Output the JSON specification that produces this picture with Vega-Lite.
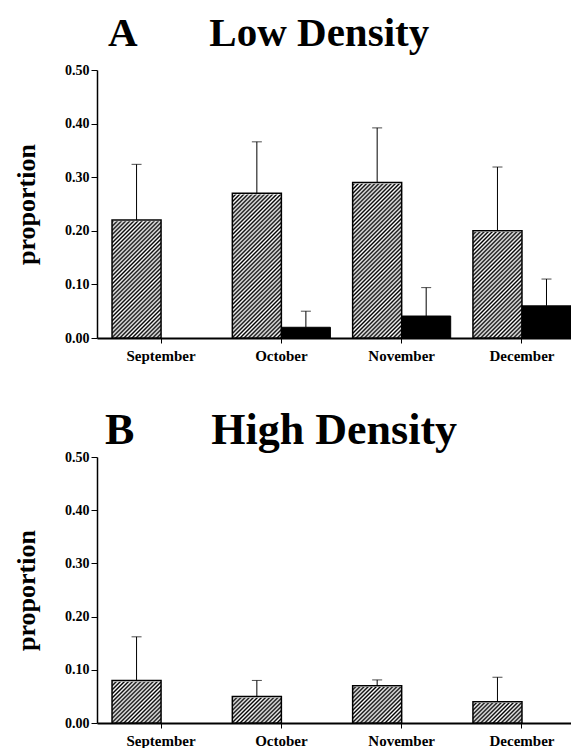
{
  "$schema": "https://vega.github.io/schema/vega-lite/v6.json",
  "padding": {"top": 13, "left": 13, "right": 0, "bottom": 0},
  "background": "white",
  "spacing": 46,
  "config": {
    "view": {"stroke": null},
    "font": "Liberation Serif",
    "title": {"font": "Liberation Serif", "fontSize": 42, "fontWeight": "bold", "anchor": "start", "frame": "group", "color": "#000", "baseline": "alphabetic"},
    "axis": {"domainColor": "#000", "tickColor": "#000", "labelColor": "#000", "titleColor": "#000", "labelFont": "Liberation Serif", "titleFont": "Liberation Serif", "labelFontWeight": "bold", "titleFontWeight": "bold", "grid": false}
  },
  "data": {"values": [
    {"panel": "A", "month": "September", "series": "hatched", "value": 0.22, "upper": 0.324},
    {"panel": "A", "month": "October", "series": "hatched", "value": 0.27, "upper": 0.366},
    {"panel": "A", "month": "November", "series": "hatched", "value": 0.29, "upper": 0.392},
    {"panel": "A", "month": "December", "series": "hatched", "value": 0.20, "upper": 0.319},
    {"panel": "A", "month": "September", "series": "solid", "value": 0.0, "upper": 0.0},
    {"panel": "A", "month": "October", "series": "solid", "value": 0.02, "upper": 0.05},
    {"panel": "A", "month": "November", "series": "solid", "value": 0.041, "upper": 0.094},
    {"panel": "A", "month": "December", "series": "solid", "value": 0.06, "upper": 0.11},
    {"panel": "B", "month": "September", "series": "hatched", "value": 0.08, "upper": 0.162},
    {"panel": "B", "month": "October", "series": "hatched", "value": 0.05, "upper": 0.08},
    {"panel": "B", "month": "November", "series": "hatched", "value": 0.07, "upper": 0.081},
    {"panel": "B", "month": "December", "series": "hatched", "value": 0.04, "upper": 0.086},
    {"panel": "B", "month": "September", "series": "solid", "value": 0.0, "upper": 0.0},
    {"panel": "B", "month": "October", "series": "solid", "value": 0.0, "upper": 0.0},
    {"panel": "B", "month": "November", "series": "solid", "value": 0.0, "upper": 0.0},
    {"panel": "B", "month": "December", "series": "solid", "value": 0.0, "upper": 0.0}
  ]},
  "vconcat": [
    {
      "title": {"text": "A\u00a0\u00a0\u00a0\u00a0\u00a0\u00a0\u00a0Low Density", "dx": 11, "offset": 8, "fontSize": 41},
      "width": 474,
      "height": 268,
      "transform": [{"filter": "datum.panel === 'A'"}],
      "encoding": {
        "x": {"field": "month", "type": "nominal", "sort": ["September", "October", "November", "December"],
              "scale": {"paddingInner": 0.185, "paddingOuter": 0.0625, "align": 1},
              "axis": {"title": null, "labelAngle": 0, "labelFontSize": 15, "domainWidth": 2, "tickSize": 5, "tickWidth": 1, "labelPadding": 5}},
        "xOffset": {"field": "series", "type": "nominal", "scale": {"domain": ["hatched", "solid"], "paddingInner": 0, "paddingOuter": 0}}
      },
      "layer": [
        {
          "transform": [{"filter": "datum.series === 'hatched'"}],
          "mark": {"type": "bar", "stroke": null, "fill": {"gradient": "linear", "x1": 0, "y1": 0, "x2": 0.2726, "y2": 1.4856, "stops": [
            {"offset":0,"color":"#000"},{"offset":0.005,"color":"#fff"},{"offset":0.01,"color":"#000"},{"offset":0.015,"color":"#fff"},{"offset":0.02,"color":"#000"},{"offset":0.025,"color":"#fff"},{"offset":0.03,"color":"#000"},{"offset":0.035,"color":"#fff"},{"offset":0.04,"color":"#000"},{"offset":0.045,"color":"#fff"},
            {"offset":0.05,"color":"#000"},{"offset":0.055,"color":"#fff"},{"offset":0.06,"color":"#000"},{"offset":0.065,"color":"#fff"},{"offset":0.07,"color":"#000"},{"offset":0.075,"color":"#fff"},{"offset":0.08,"color":"#000"},{"offset":0.085,"color":"#fff"},{"offset":0.09,"color":"#000"},{"offset":0.095,"color":"#fff"},
            {"offset":0.1,"color":"#000"},{"offset":0.105,"color":"#fff"},{"offset":0.11,"color":"#000"},{"offset":0.115,"color":"#fff"},{"offset":0.12,"color":"#000"},{"offset":0.125,"color":"#fff"},{"offset":0.13,"color":"#000"},{"offset":0.135,"color":"#fff"},{"offset":0.14,"color":"#000"},{"offset":0.145,"color":"#fff"},
            {"offset":0.15,"color":"#000"},{"offset":0.155,"color":"#fff"},{"offset":0.16,"color":"#000"},{"offset":0.165,"color":"#fff"},{"offset":0.17,"color":"#000"},{"offset":0.175,"color":"#fff"},{"offset":0.18,"color":"#000"},{"offset":0.185,"color":"#fff"},{"offset":0.19,"color":"#000"},{"offset":0.195,"color":"#fff"},
            {"offset":0.2,"color":"#000"},{"offset":0.205,"color":"#fff"},{"offset":0.21,"color":"#000"},{"offset":0.215,"color":"#fff"},{"offset":0.22,"color":"#000"},{"offset":0.225,"color":"#fff"},{"offset":0.23,"color":"#000"},{"offset":0.235,"color":"#fff"},{"offset":0.24,"color":"#000"},{"offset":0.245,"color":"#fff"},
            {"offset":0.25,"color":"#000"},{"offset":0.255,"color":"#fff"},{"offset":0.26,"color":"#000"},{"offset":0.265,"color":"#fff"},{"offset":0.27,"color":"#000"},{"offset":0.275,"color":"#fff"},{"offset":0.28,"color":"#000"},{"offset":0.285,"color":"#fff"},{"offset":0.29,"color":"#000"},{"offset":0.295,"color":"#fff"},
            {"offset":0.3,"color":"#000"},{"offset":0.305,"color":"#fff"},{"offset":0.31,"color":"#000"},{"offset":0.315,"color":"#fff"},{"offset":0.32,"color":"#000"},{"offset":0.325,"color":"#fff"},{"offset":0.33,"color":"#000"},{"offset":0.335,"color":"#fff"},{"offset":0.34,"color":"#000"},{"offset":0.345,"color":"#fff"},
            {"offset":0.35,"color":"#000"},{"offset":0.355,"color":"#fff"},{"offset":0.36,"color":"#000"},{"offset":0.365,"color":"#fff"},{"offset":0.37,"color":"#000"},{"offset":0.375,"color":"#fff"},{"offset":0.38,"color":"#000"},{"offset":0.385,"color":"#fff"},{"offset":0.39,"color":"#000"},{"offset":0.395,"color":"#fff"},
            {"offset":0.4,"color":"#000"},{"offset":0.405,"color":"#fff"},{"offset":0.41,"color":"#000"},{"offset":0.415,"color":"#fff"},{"offset":0.42,"color":"#000"},{"offset":0.425,"color":"#fff"},{"offset":0.43,"color":"#000"},{"offset":0.435,"color":"#fff"},{"offset":0.44,"color":"#000"},{"offset":0.445,"color":"#fff"},
            {"offset":0.45,"color":"#000"},{"offset":0.455,"color":"#fff"},{"offset":0.46,"color":"#000"},{"offset":0.465,"color":"#fff"},{"offset":0.47,"color":"#000"},{"offset":0.475,"color":"#fff"},{"offset":0.48,"color":"#000"},{"offset":0.485,"color":"#fff"},{"offset":0.49,"color":"#000"},{"offset":0.495,"color":"#fff"},
            {"offset":0.5,"color":"#000"},{"offset":0.505,"color":"#fff"},{"offset":0.51,"color":"#000"},{"offset":0.515,"color":"#fff"},{"offset":0.52,"color":"#000"},{"offset":0.525,"color":"#fff"},{"offset":0.53,"color":"#000"},{"offset":0.535,"color":"#fff"},{"offset":0.54,"color":"#000"},{"offset":0.545,"color":"#fff"},
            {"offset":0.55,"color":"#000"},{"offset":0.555,"color":"#fff"},{"offset":0.56,"color":"#000"},{"offset":0.565,"color":"#fff"},{"offset":0.57,"color":"#000"},{"offset":0.575,"color":"#fff"},{"offset":0.58,"color":"#000"},{"offset":0.585,"color":"#fff"},{"offset":0.59,"color":"#000"},{"offset":0.595,"color":"#fff"},
            {"offset":0.6,"color":"#000"},{"offset":0.605,"color":"#fff"},{"offset":0.61,"color":"#000"},{"offset":0.615,"color":"#fff"},{"offset":0.62,"color":"#000"},{"offset":0.625,"color":"#fff"},{"offset":0.63,"color":"#000"},{"offset":0.635,"color":"#fff"},{"offset":0.64,"color":"#000"},{"offset":0.645,"color":"#fff"},
            {"offset":0.65,"color":"#000"},{"offset":0.655,"color":"#fff"},{"offset":0.66,"color":"#000"},{"offset":0.665,"color":"#fff"},{"offset":0.67,"color":"#000"},{"offset":0.675,"color":"#fff"},{"offset":0.68,"color":"#000"},{"offset":0.685,"color":"#fff"},{"offset":0.69,"color":"#000"},{"offset":0.695,"color":"#fff"},
            {"offset":0.7,"color":"#000"},{"offset":0.705,"color":"#fff"},{"offset":0.71,"color":"#000"},{"offset":0.715,"color":"#fff"},{"offset":0.72,"color":"#000"},{"offset":0.725,"color":"#fff"},{"offset":0.73,"color":"#000"},{"offset":0.735,"color":"#fff"},{"offset":0.74,"color":"#000"},{"offset":0.745,"color":"#fff"},
            {"offset":0.75,"color":"#000"},{"offset":0.755,"color":"#fff"},{"offset":0.76,"color":"#000"},{"offset":0.765,"color":"#fff"},{"offset":0.77,"color":"#000"},{"offset":0.775,"color":"#fff"},{"offset":0.78,"color":"#000"}
          ]}},
          "encoding": {
            "y": {"datum": 0.5, "type": "quantitative", "scale": {"domain": [0, 0.5], "nice": false},
                  "axis": {"title": "proportion", "values": [0, 0.1, 0.2, 0.3, 0.4, 0.5], "format": ".2f", "labelFontSize": 14, "titleFontSize": 26, "tickSize": 6, "domainWidth": 1.5, "labelPadding": 2, "titlePadding": 25}},
            "y2": {"datum": 0}
          }
        },
        {
          "transform": [{"filter": "datum.series === 'hatched'"}],
          "mark": {"type": "bar", "fill": "#fff", "stroke": "#fff", "strokeWidth": 2.5},
          "encoding": {"y": {"field": "value", "type": "quantitative", "stack": null}, "y2": {"datum": 0.5}}
        },
        {
          "transform": [{"filter": "datum.series === 'hatched'"}],
          "mark": {"type": "bar", "fill": "transparent", "stroke": "#000", "strokeWidth": 1.5},
          "encoding": {"y": {"field": "value", "type": "quantitative", "stack": null}, "y2": {"datum": 0}}
        },
        {
          "transform": [{"filter": "datum.series === 'solid' && datum.value > 0"}],
          "mark": {"type": "bar", "fill": "#000", "stroke": "#000", "strokeWidth": 1},
          "encoding": {"y": {"field": "value", "type": "quantitative", "stack": null}}
        },
        {
          "transform": [{"filter": "datum.upper > datum.value"}],
          "mark": {"type": "rule", "color": "#000", "strokeWidth": 1},
          "encoding": {"y": {"field": "value", "type": "quantitative"}, "y2": {"field": "upper"}}
        },
        {
          "transform": [{"filter": "datum.upper > datum.value"}],
          "mark": {"type": "tick", "color": "#000", "size": 10, "thickness": 1, "orient": "horizontal"},
          "encoding": {"y": {"field": "upper", "type": "quantitative"}}
        }
      ]
    },
    {
      "title": {"text": "B\u00a0\u00a0\u00a0\u00a0\u00a0\u00a0\u00a0High Density", "dx": 8, "offset": -3, "fontSize": 44},
      "width": 474,
      "height": 266,
      "transform": [{"filter": "datum.panel === 'B'"}],
      "encoding": {
        "x": {"field": "month", "type": "nominal", "sort": ["September", "October", "November", "December"],
              "scale": {"paddingInner": 0.185, "paddingOuter": 0.0625, "align": 1},
              "axis": {"title": null, "labelAngle": 0, "labelFontSize": 15, "domainWidth": 2, "tickSize": 5, "tickWidth": 1, "labelPadding": 5}},
        "xOffset": {"field": "series", "type": "nominal", "scale": {"domain": ["hatched", "solid"], "paddingInner": 0, "paddingOuter": 0}}
      },
      "layer": [
        {
          "transform": [{"filter": "datum.series === 'hatched'"}],
          "mark": {"type": "bar", "stroke": null, "fill": {"gradient": "linear", "x1": 0, "y1": 0, "x2": 0.2726, "y2": 1.4856, "stops": [
            {"offset":0,"color":"#000"},{"offset":0.005,"color":"#fff"},{"offset":0.01,"color":"#000"},{"offset":0.015,"color":"#fff"},{"offset":0.02,"color":"#000"},{"offset":0.025,"color":"#fff"},{"offset":0.03,"color":"#000"},{"offset":0.035,"color":"#fff"},{"offset":0.04,"color":"#000"},{"offset":0.045,"color":"#fff"},
            {"offset":0.05,"color":"#000"},{"offset":0.055,"color":"#fff"},{"offset":0.06,"color":"#000"},{"offset":0.065,"color":"#fff"},{"offset":0.07,"color":"#000"},{"offset":0.075,"color":"#fff"},{"offset":0.08,"color":"#000"},{"offset":0.085,"color":"#fff"},{"offset":0.09,"color":"#000"},{"offset":0.095,"color":"#fff"},
            {"offset":0.1,"color":"#000"},{"offset":0.105,"color":"#fff"},{"offset":0.11,"color":"#000"},{"offset":0.115,"color":"#fff"},{"offset":0.12,"color":"#000"},{"offset":0.125,"color":"#fff"},{"offset":0.13,"color":"#000"},{"offset":0.135,"color":"#fff"},{"offset":0.14,"color":"#000"},{"offset":0.145,"color":"#fff"},
            {"offset":0.15,"color":"#000"},{"offset":0.155,"color":"#fff"},{"offset":0.16,"color":"#000"},{"offset":0.165,"color":"#fff"},{"offset":0.17,"color":"#000"},{"offset":0.175,"color":"#fff"},{"offset":0.18,"color":"#000"},{"offset":0.185,"color":"#fff"},{"offset":0.19,"color":"#000"},{"offset":0.195,"color":"#fff"},
            {"offset":0.2,"color":"#000"},{"offset":0.205,"color":"#fff"},{"offset":0.21,"color":"#000"},{"offset":0.215,"color":"#fff"},{"offset":0.22,"color":"#000"},{"offset":0.225,"color":"#fff"},{"offset":0.23,"color":"#000"},{"offset":0.235,"color":"#fff"},{"offset":0.24,"color":"#000"},{"offset":0.245,"color":"#fff"},
            {"offset":0.25,"color":"#000"},{"offset":0.255,"color":"#fff"},{"offset":0.26,"color":"#000"},{"offset":0.265,"color":"#fff"},{"offset":0.27,"color":"#000"},{"offset":0.275,"color":"#fff"},{"offset":0.28,"color":"#000"},{"offset":0.285,"color":"#fff"},{"offset":0.29,"color":"#000"},{"offset":0.295,"color":"#fff"},
            {"offset":0.3,"color":"#000"},{"offset":0.305,"color":"#fff"},{"offset":0.31,"color":"#000"},{"offset":0.315,"color":"#fff"},{"offset":0.32,"color":"#000"},{"offset":0.325,"color":"#fff"},{"offset":0.33,"color":"#000"},{"offset":0.335,"color":"#fff"},{"offset":0.34,"color":"#000"},{"offset":0.345,"color":"#fff"},
            {"offset":0.35,"color":"#000"},{"offset":0.355,"color":"#fff"},{"offset":0.36,"color":"#000"},{"offset":0.365,"color":"#fff"},{"offset":0.37,"color":"#000"},{"offset":0.375,"color":"#fff"},{"offset":0.38,"color":"#000"},{"offset":0.385,"color":"#fff"},{"offset":0.39,"color":"#000"},{"offset":0.395,"color":"#fff"},
            {"offset":0.4,"color":"#000"},{"offset":0.405,"color":"#fff"},{"offset":0.41,"color":"#000"},{"offset":0.415,"color":"#fff"},{"offset":0.42,"color":"#000"},{"offset":0.425,"color":"#fff"},{"offset":0.43,"color":"#000"},{"offset":0.435,"color":"#fff"},{"offset":0.44,"color":"#000"},{"offset":0.445,"color":"#fff"},
            {"offset":0.45,"color":"#000"},{"offset":0.455,"color":"#fff"},{"offset":0.46,"color":"#000"},{"offset":0.465,"color":"#fff"},{"offset":0.47,"color":"#000"},{"offset":0.475,"color":"#fff"},{"offset":0.48,"color":"#000"},{"offset":0.485,"color":"#fff"},{"offset":0.49,"color":"#000"},{"offset":0.495,"color":"#fff"},
            {"offset":0.5,"color":"#000"},{"offset":0.505,"color":"#fff"},{"offset":0.51,"color":"#000"},{"offset":0.515,"color":"#fff"},{"offset":0.52,"color":"#000"},{"offset":0.525,"color":"#fff"},{"offset":0.53,"color":"#000"},{"offset":0.535,"color":"#fff"},{"offset":0.54,"color":"#000"},{"offset":0.545,"color":"#fff"},
            {"offset":0.55,"color":"#000"},{"offset":0.555,"color":"#fff"},{"offset":0.56,"color":"#000"},{"offset":0.565,"color":"#fff"},{"offset":0.57,"color":"#000"},{"offset":0.575,"color":"#fff"},{"offset":0.58,"color":"#000"},{"offset":0.585,"color":"#fff"},{"offset":0.59,"color":"#000"},{"offset":0.595,"color":"#fff"},
            {"offset":0.6,"color":"#000"},{"offset":0.605,"color":"#fff"},{"offset":0.61,"color":"#000"},{"offset":0.615,"color":"#fff"},{"offset":0.62,"color":"#000"},{"offset":0.625,"color":"#fff"},{"offset":0.63,"color":"#000"},{"offset":0.635,"color":"#fff"},{"offset":0.64,"color":"#000"},{"offset":0.645,"color":"#fff"},
            {"offset":0.65,"color":"#000"},{"offset":0.655,"color":"#fff"},{"offset":0.66,"color":"#000"},{"offset":0.665,"color":"#fff"},{"offset":0.67,"color":"#000"},{"offset":0.675,"color":"#fff"},{"offset":0.68,"color":"#000"},{"offset":0.685,"color":"#fff"},{"offset":0.69,"color":"#000"},{"offset":0.695,"color":"#fff"},
            {"offset":0.7,"color":"#000"},{"offset":0.705,"color":"#fff"},{"offset":0.71,"color":"#000"},{"offset":0.715,"color":"#fff"},{"offset":0.72,"color":"#000"},{"offset":0.725,"color":"#fff"},{"offset":0.73,"color":"#000"},{"offset":0.735,"color":"#fff"},{"offset":0.74,"color":"#000"},{"offset":0.745,"color":"#fff"},
            {"offset":0.75,"color":"#000"},{"offset":0.755,"color":"#fff"},{"offset":0.76,"color":"#000"},{"offset":0.765,"color":"#fff"},{"offset":0.77,"color":"#000"},{"offset":0.775,"color":"#fff"},{"offset":0.78,"color":"#000"}
          ]}},
          "encoding": {
            "y": {"datum": 0.5, "type": "quantitative", "scale": {"domain": [0, 0.5], "nice": false},
                  "axis": {"title": "proportion", "values": [0, 0.1, 0.2, 0.3, 0.4, 0.5], "format": ".2f", "labelFontSize": 14, "titleFontSize": 26, "tickSize": 6, "domainWidth": 1.5, "labelPadding": 2, "titlePadding": 25}},
            "y2": {"datum": 0}
          }
        },
        {
          "transform": [{"filter": "datum.series === 'hatched'"}],
          "mark": {"type": "bar", "fill": "#fff", "stroke": "#fff", "strokeWidth": 2.5},
          "encoding": {"y": {"field": "value", "type": "quantitative", "stack": null}, "y2": {"datum": 0.5}}
        },
        {
          "transform": [{"filter": "datum.series === 'hatched'"}],
          "mark": {"type": "bar", "fill": "transparent", "stroke": "#000", "strokeWidth": 1.5},
          "encoding": {"y": {"field": "value", "type": "quantitative", "stack": null}, "y2": {"datum": 0}}
        },
        {
          "transform": [{"filter": "datum.series === 'solid' && datum.value > 0"}],
          "mark": {"type": "bar", "fill": "#000", "stroke": "#000", "strokeWidth": 1},
          "encoding": {"y": {"field": "value", "type": "quantitative", "stack": null}}
        },
        {
          "transform": [{"filter": "datum.upper > datum.value"}],
          "mark": {"type": "rule", "color": "#000", "strokeWidth": 1},
          "encoding": {"y": {"field": "value", "type": "quantitative"}, "y2": {"field": "upper"}}
        },
        {
          "transform": [{"filter": "datum.upper > datum.value"}],
          "mark": {"type": "tick", "color": "#000", "size": 10, "thickness": 1, "orient": "horizontal"},
          "encoding": {"y": {"field": "upper", "type": "quantitative"}}
        }
      ]
    }
  ]
}
